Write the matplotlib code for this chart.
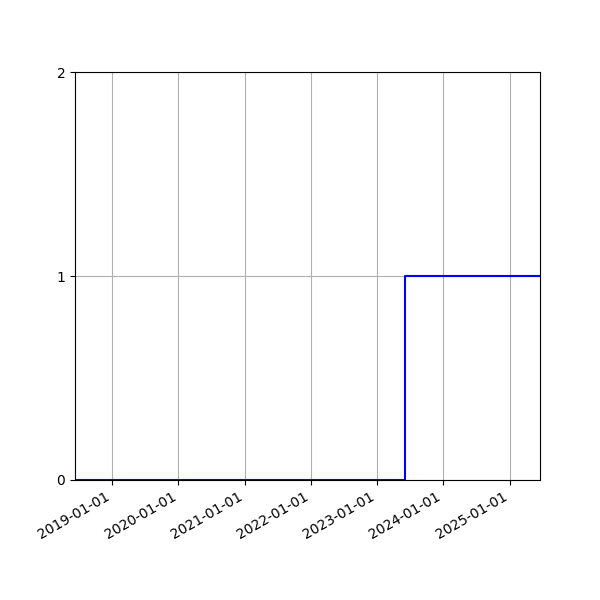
import matplotlib
matplotlib.use("Agg")
import matplotlib.pyplot as plt
import matplotlib.dates as mdates
import pandas as pd

# step series: 0 until mid 2023, then 1
dates = ["2018-06-10", "2023-06-06", "2025-06-18"]
values = [0, 1, 1]
yticks = [0, 1, 2]

x = pd.to_datetime(dates)

fig, ax = plt.subplots(figsize=(6, 6), dpi=100)
ax.plot(x, values, color="b", drawstyle="steps-post")
ax.set_xlim(x[0], x[-1])
ax.set_ylim(0, 2)
ax.set_yticks(yticks)
ax.xaxis.set_major_locator(mdates.YearLocator())
ax.xaxis.set_major_formatter(mdates.DateFormatter("%Y-%m-%d"))
ax.grid(True)
fig.autofmt_xdate()
fig.savefig("out.png")
